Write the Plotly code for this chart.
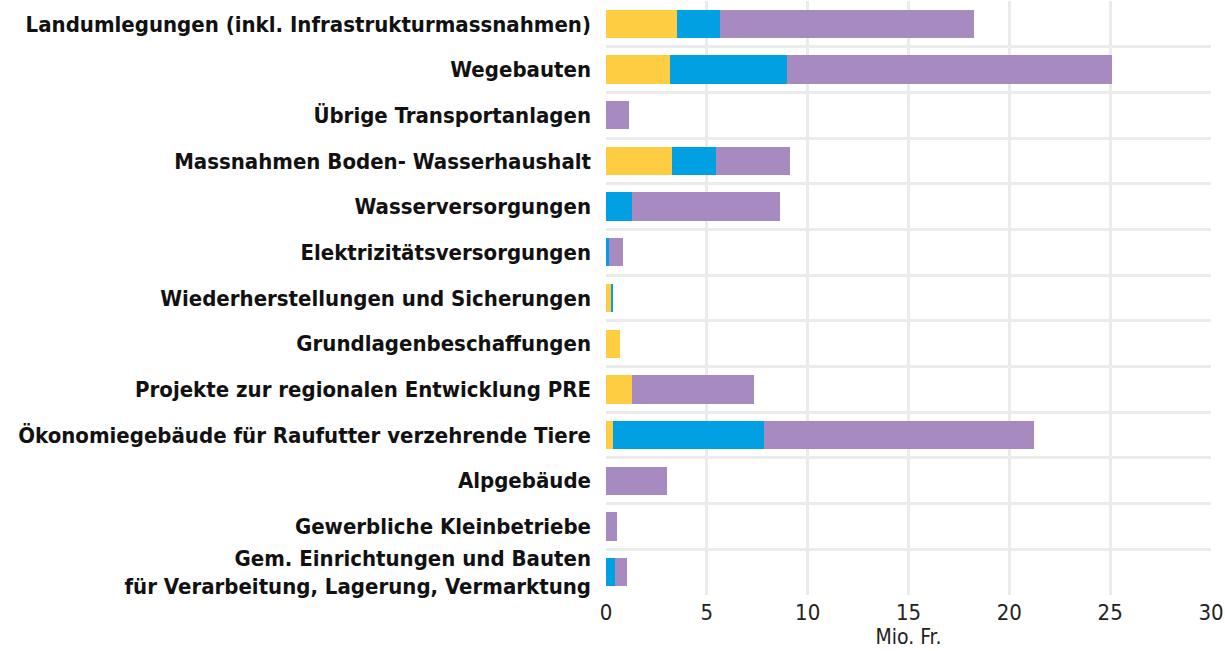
import plotly.graph_objects as go

categories = [
    "Landumlegungen (inkl. Infrastrukturmassnahmen)",
    "Wegebauten",
    "Übrige Transportanlagen",
    "Massnahmen Boden- Wasserhaushalt",
    "Wasserversorgungen",
    "Elektrizitätsversorgungen",
    "Wiederherstellungen und Sicherungen",
    "Grundlagenbeschaffungen",
    "Projekte zur regionalen Entwicklung PRE",
    "Ökonomiegebäude für Raufutter verzehrende Tiere",
    "Alpgebäude",
    "Gewerbliche Kleinbetriebe",
    "Gem. Einrichtungen und Bauten<br>für Verarbeitung, Lagerung, Vermarktung",
]
series_yellow = [3.54, 3.17, 0.0, 3.27, 0.0, 0.0, 0.25, 0.68, 1.27, 0.35, 0.0, 0.0, 0.0]
series_blue = [2.10, 5.81, 0.0, 2.18, 1.29, 0.17, 0.11, 0.0, 0.0, 7.50, 0.0, 0.0, 0.43]
series_purple = [12.59, 16.12, 1.16, 3.69, 7.35, 0.67, 0.0, 0.0, 6.07, 13.37, 3.04, 0.56, 0.61]
x_ticks = [0, 5, 10, 15, 20, 25, 30]

fig = go.Figure()
for name, vals, col in [
    ("Serie 1", series_yellow, "#FECD42"),
    ("Serie 2", series_blue, "#00A0E2"),
    ("Serie 3", series_purple, "#A78AC0"),
]:
    fig.add_trace(go.Bar(y=categories, x=vals, orientation="h", name=name,
                         marker=dict(color=col, line=dict(width=0))))

fig.update_layout(
    barmode="stack",
    bargap=0.38,
    showlegend=False,
    width=1225, height=651,
    margin=dict(l=606, r=14, t=1, b=56),
    plot_bgcolor="white", paper_bgcolor="white",
    font=dict(family="DejaVu Sans Condensed", color="#111111"),
)
fig.update_xaxes(
    range=[0, 30], tickvals=x_ticks, showgrid=True, gridcolor="#ebebeb", gridwidth=3,
    zeroline=False, showline=False, automargin=False, ticklabelstandoff=2,
    tickfont=dict(size=22, family="DejaVu Sans Condensed", color="#222"),
    title=dict(text="Mio. Fr.", font=dict(size=21, family="DejaVu Sans Condensed", color="#222"), standoff=0),
)
fig.update_yaxes(
    categoryorder="array", categoryarray=categories,
    range=[12.5, -0.5], tickson="boundaries", ticks="", showgrid=True,
    gridcolor="#ebebeb", gridwidth=3, ticklabelstandoff=14, automargin=False,
    tickfont=dict(size=22, family="DejaVu Sans Condensed", weight="bold", color="#111"),
)
fig.write_html(
    "out.html",
    config={"displayModeBar": False},
    post_script="document.body.style.margin='0';document.body.style.overflow='hidden';",
)
